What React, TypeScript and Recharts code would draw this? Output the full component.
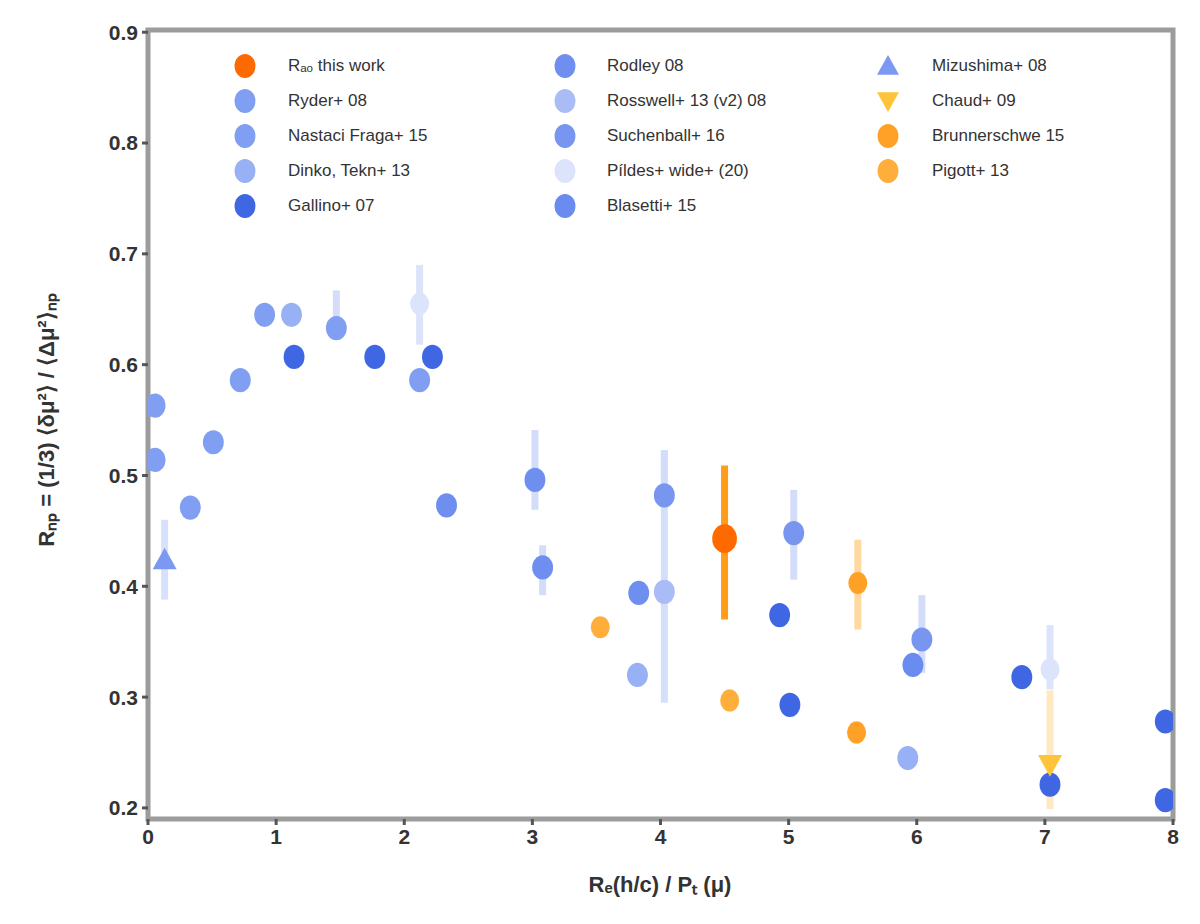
import { ScatterChart, Scatter, XAxis, YAxis, ErrorBar, ReferenceArea } from "recharts";

type Pt = { x: number; y: number; err: [number, number] };

const X_TICKS = [0, 1, 2, 3, 4, 5, 6, 7, 8];
const Y_TICKS = [0.2, 0.3, 0.4, 0.5, 0.6, 0.7, 0.8, 0.9];

const thisWork: Pt[] = [{ x: 4.5, y: 0.443, err: [0.073, 0.066] }];
const ryder: Pt[] = [
  { x: 0.055, y: 0.563, err: [0, 0] },
  { x: 0.72, y: 0.586, err: [0.01, 0.01] },
  { x: 1.47, y: 0.633, err: [0, 0.034] },
  { x: 0.91, y: 0.645, err: [0, 0] },
];
const nastaci: Pt[] = [
  { x: 0.055, y: 0.514, err: [0, 0] },
  { x: 0.51, y: 0.53, err: [0.01, 0.01] },
  { x: 0.33, y: 0.471, err: [0.01, 0.01] },
  { x: 2.12, y: 0.586, err: [0, 0] },
];
const dinko: Pt[] = [
  { x: 1.12, y: 0.645, err: [0, 0] },
  { x: 3.82, y: 0.32, err: [0.01, 0.01] },
  { x: 5.93, y: 0.245, err: [0.01, 0.01] },
];
const gallino: Pt[] = [
  { x: 1.14, y: 0.607, err: [0, 0] },
  { x: 1.77, y: 0.607, err: [0, 0] },
  { x: 2.22, y: 0.607, err: [0, 0] },
  { x: 4.93, y: 0.374, err: [0, 0] },
  { x: 5.01, y: 0.293, err: [0, 0] },
  { x: 6.82, y: 0.318, err: [0, 0] },
  { x: 7.04, y: 0.221, err: [0, 0] },
  { x: 7.94, y: 0.278, err: [0, 0] },
  { x: 7.94, y: 0.207, err: [0, 0] },
];
const rodley: Pt[] = [
  { x: 2.33, y: 0.473, err: [0, 0] },
  { x: 3.02, y: 0.496, err: [0.027, 0.045] },
  { x: 3.08, y: 0.417, err: [0.025, 0.02] },
  { x: 3.83, y: 0.394, err: [0, 0] },
];
const rosswell: Pt[] = [{ x: 4.03, y: 0.395, err: [0.1, 0.128] }];
const suchenball: Pt[] = [
  { x: 4.03, y: 0.482, err: [0, 0.04] },
  { x: 5.04, y: 0.448, err: [0.042, 0.039] },
  { x: 6.04, y: 0.352, err: [0.03, 0.04] },
];
const pildes: Pt[] = [
  { x: 2.12, y: 0.655, err: [0.037, 0.035] },
  { x: 7.04, y: 0.325, err: [0.018, 0.04] },
];
const blasetti: Pt[] = [{ x: 5.97, y: 0.329, err: [0, 0] }];
const mizushima: Pt[] = [{ x: 0.13, y: 0.424, err: [0.036, 0.036] }];
const chaud: Pt[] = [{ x: 7.04, y: 0.239, err: [0.04, 0.067] }];
const brunner: Pt[] = [
  { x: 5.54, y: 0.403, err: [0.042, 0.039] },
  { x: 5.53, y: 0.268, err: [0.01, 0.01] },
];
const pigott: Pt[] = [
  { x: 3.53, y: 0.363, err: [0, 0] },
  { x: 4.54, y: 0.297, err: [0.01, 0.01] },
];

type Series = {
  name: string;
  data: Pt[];
  fill: string;
  bar: string;
  r: number;
  kind: "circle" | "triangle" | "down";
};

const SERIES: Series[] = [
  { name: "P\u00edldes+ wide+ (20)", data: pildes, fill: "#dce4fb", bar: "#dce4fb", r: 10, kind: "circle" },
  { name: "Rosswell+ 13 (v2) 08", data: rosswell, fill: "#a9bcf6", bar: "#d5dffa", r: 11, kind: "circle" },
  { name: "Suchenball+ 16", data: suchenball, fill: "#7896f0", bar: "#d3ddfa", r: 11, kind: "circle" },
  { name: "Rodley 08", data: rodley, fill: "#6f8ff0", bar: "#d3ddfa", r: 11, kind: "circle" },
  { name: "Ryder+ 08", data: ryder, fill: "#809ef2", bar: "#d3ddfa", r: 11, kind: "circle" },
  { name: "Nastaci Fraga+ 15", data: nastaci, fill: "#809ef2", bar: "#d3ddfa", r: 11, kind: "circle" },
  { name: "Dinko, Tekn+ 13", data: dinko, fill: "#98b0f4", bar: "#d8e1fb", r: 11, kind: "circle" },
  { name: "Mizushima+ 08", data: mizushima, fill: "#7b99f1", bar: "#d8e1fb", r: 12, kind: "triangle" },
  { name: "Blasetti+ 15", data: blasetti, fill: "#6a8bef", bar: "#d3ddfa", r: 11, kind: "circle" },
  { name: "Gallino+ 07", data: gallino, fill: "#3f66e3", bar: "#c9d5f8", r: 11, kind: "circle" },
  { name: "Pigott+ 13", data: pigott, fill: "#ffae3c", bar: "#ffe2b5", r: 10, kind: "circle" },
  { name: "Brunnerschwe 15", data: brunner, fill: "#ffa126", bar: "#ffd9a0", r: 10, kind: "circle" },
  { name: "Chaud+ 09", data: chaud, fill: "#ffc43a", bar: "#ffe9c2", r: 12, kind: "down" },
  { name: "R\u2090\u2092  this work", data: thisWork, fill: "#ff6a00", bar: "#ff9d1a", r: 13, kind: "circle" },
];

const LEGEND: string[][] = [
  ["R\u2090\u2092  this work", "Ryder+ 08", "Nastaci Fraga+ 15", "Dinko, Tekn+ 13", "Gallino+ 07"],
  ["Rodley 08", "Rosswell+ 13 (v2) 08", "Suchenball+ 16", "P\u00edldes+ wide+ (20)", "Blasetti+ 15"],
  ["Mizushima+ 08", "Chaud+ 09", "Brunnerschwe 15", "Pigott+ 13"],
];

const makeShape = (s: Series) => (props: any) => {
  const { cx, cy } = props;
  if (cx == null || cy == null) return <g />;
  const r = s.r;
  if (s.kind === "triangle") {
    return <polygon points={`${cx},${cy - r} ${cx - r},${cy + r * 0.8} ${cx + r},${cy + r * 0.8}`} fill={s.fill} />;
  }
  if (s.kind === "down") {
    return <polygon points={`${cx},${cy + r} ${cx - r},${cy - r * 0.8} ${cx + r},${cy - r * 0.8}`} fill={s.fill} />;
  }
  return <ellipse cx={cx} cy={cy} rx={r * 0.95} ry={r * 1.1} fill={s.fill} />;
};

const tickStyle = { fill: "#333", fontSize: 21, fontFamily: "Liberation Sans, Arial, sans-serif", fontWeight: 700 };

function LegendBox() {
  const cols = [
    { mx: 245, tx: 288 },
    { mx: 565, tx: 607 },
    { mx: 888, tx: 932 },
  ];
  const byName: Record<string, Series> = {};
  SERIES.forEach((s) => (byName[s.name] = s));
  return (
    <div style={{ position: "absolute", left: 0, top: 0, width: 1200, height: 240, pointerEvents: "none" }}>
      {LEGEND.map((col, ci) =>
        col.map((name, ri) => {
          const s = byName[name];
          const y = 66 + ri * 35;
          return (
            <div key={name}>
              <svg
                style={{ position: "absolute", left: cols[ci].mx - 16, top: y - 16 }}
                width={32}
                height={32}
              >
                {makeShape({ ...s, r: 11 })({ cx: 16, cy: 16 })}
              </svg>
              <div
                style={{
                  position: "absolute",
                  left: cols[ci].tx,
                  top: y - 11,
                  fontSize: 17,
                  lineHeight: "22px",
                  color: "#333",
                  fontFamily: "Liberation Sans, Arial, sans-serif",
                  whiteSpace: "nowrap",
                }}
              >
                {name}
              </div>
            </div>
          );
        })
      )}
    </div>
  );
}

export default function App() {
  return (
    <div style={{ position: "absolute", left: 0, top: 0, width: 1200, height: 924, background: "#fff" }}>
      <ScatterChart width={1200} height={924} margin={{ top: 30, right: 27, bottom: 30, left: 48 }}>
        <XAxis
          type="number"
          dataKey="x"
          domain={[0, 8]}
          ticks={X_TICKS}
          allowDataOverflow
          axisLine={false}
          tickLine={{ stroke: "#555", strokeWidth: 3 }}
          tickSize={6}
          tickMargin={4}
          height={75}
          tick={tickStyle}
        />
        <YAxis
          type="number"
          dataKey="y"
          domain={[0.19, 0.902]}
          ticks={Y_TICKS}
          allowDataOverflow
          axisLine={false}
          tickLine={{ stroke: "#555", strokeWidth: 3 }}
          tickSize={6}
          tickMargin={4}
          width={100}
          tick={tickStyle}
          tickFormatter={(v: number) => v.toFixed(1)}
        />
        <ReferenceArea
          x1={0}
          x2={8}
          y1={0.19}
          y2={0.902}
          fill="none"
          stroke="#9c9c9c"
          strokeWidth={5}
          ifOverflow="visible"
        />
        {SERIES.map((s) => (
          <Scatter key={s.name} name={s.name} data={s.data} shape={makeShape(s)} isAnimationActive={false}>
            <ErrorBar dataKey="err" direction="y" width={0} stroke={s.bar} strokeWidth={7} />
          </Scatter>
        ))}
      </ScatterChart>
      <LegendBox />
      <div
        style={{
          position: "absolute",
          left: 0,
          top: 868,
          width: 1320,
          textAlign: "center",
          fontSize: 22,
          fontWeight: 700,
          color: "#333",
          fontFamily: "Liberation Sans, Arial, sans-serif",
        }}
      >
        R&#8337;(h/c) / P&#8348;  (&#956;)
      </div>
      <div
        style={{
          position: "absolute",
          left: 45,
          top: 420,
          transform: "translate(-50%, -50%) rotate(-90deg)",
          whiteSpace: "nowrap",
          fontSize: 22,
          fontWeight: 700,
          color: "#333",
          fontFamily: "Liberation Sans, Arial, sans-serif",
        }}
      >
        R&#8345;&#8346; = (1/3) &#10216;&#948;&#956;&#178;&#10217; / &#10216;&#916;&#956;&#178;&#10217;&#8345;&#8346;
      </div>
    </div>
  );
}
